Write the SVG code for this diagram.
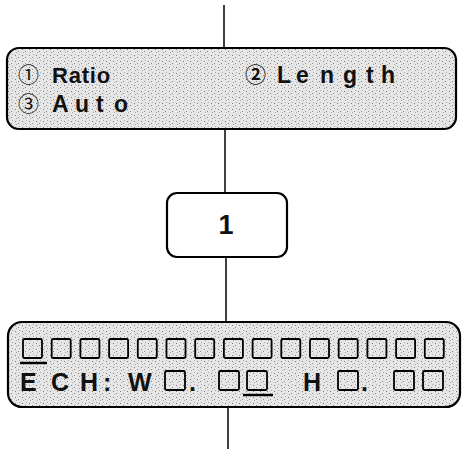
<svg xmlns="http://www.w3.org/2000/svg" width="465" height="450" viewBox="0 0 465 450">
<defs>
<pattern id="stip" width="7" height="6" patternUnits="userSpaceOnUse">
<rect width="7" height="6" fill="#e6e6e6"/>
<rect x="1" y="1" width="1" height="1" fill="#7a7a7a"/>
<rect x="4" y="3" width="1" height="1" fill="#8a8a8a"/>
<rect x="2" y="4" width="1" height="1" fill="#a8a8a8"/>
<rect x="5" y="0" width="1" height="1" fill="#aaaaaa"/>
</pattern>
</defs>
<style>
.box{fill:url(#stip);stroke:#000;stroke-width:2.2}
.plain{fill:#fff;stroke:#000;stroke-width:2.2}
.sq{fill:url(#stip);stroke:#000;stroke-width:1.8}
.conn{stroke:#000;stroke-width:1.5;fill:none}
.ul{stroke:#000;stroke-width:2.4}
.t{font-family:"Liberation Sans","Noto Sans CJK JP",sans-serif;font-weight:bold;fill:#111}
.c{font-family:"Noto Sans CJK JP","DejaVu Sans",sans-serif;fill:#111}
</style>
<g id="connectors">
<line class="conn" x1="224" y1="5" x2="224" y2="48"/>
<line class="conn" x1="225" y1="129" x2="225" y2="193"/>
<line class="conn" x1="226" y1="257" x2="226" y2="322"/>
<line class="conn" x1="228" y1="407" x2="228" y2="449"/>
</g>
<g id="menu">
<rect class="box" x="7" y="48" width="449" height="81" rx="12"/>
<text class="c" x="18" y="82" font-size="21">①</text>
<text class="t" x="52" y="83" font-size="22" letter-spacing="0.8">Ratio</text>
<text class="c" x="245" y="82" font-size="21" font-weight="bold">②</text>
<text class="t" x="277 296 320 343 366 381" y="83" font-size="23">Length</text>
<text class="c" x="18" y="111" font-size="21">③</text>
<text class="t" x="52 75 96 114" y="112" font-size="23">Auto</text>
</g>
<g id="key1">
<rect class="plain" x="167" y="193" width="120" height="64" rx="10"/>
<text class="t" x="226" y="234" font-size="27" text-anchor="middle">1</text>
</g>
<g id="display">
<rect class="box" x="8" y="322" width="452" height="85" rx="14"/>
<rect class="sq" x="23" y="339" width="19" height="19" rx="1.5"/>
<rect class="sq" x="51.7" y="339" width="19" height="19" rx="1.5"/>
<rect class="sq" x="80.4" y="339" width="19" height="19" rx="1.5"/>
<rect class="sq" x="109.1" y="339" width="19" height="19" rx="1.5"/>
<rect class="sq" x="137.8" y="339" width="19" height="19" rx="1.5"/>
<rect class="sq" x="166.5" y="339" width="19" height="19" rx="1.5"/>
<rect class="sq" x="195.2" y="339" width="19" height="19" rx="1.5"/>
<rect class="sq" x="223.9" y="339" width="19" height="19" rx="1.5"/>
<rect class="sq" x="252.6" y="339" width="19" height="19" rx="1.5"/>
<rect class="sq" x="281.3" y="339" width="19" height="19" rx="1.5"/>
<rect class="sq" x="310" y="339" width="19" height="19" rx="1.5"/>
<rect class="sq" x="338.7" y="339" width="19" height="19" rx="1.5"/>
<rect class="sq" x="367.4" y="339" width="19" height="19" rx="1.5"/>
<rect class="sq" x="396.1" y="339" width="19" height="19" rx="1.5"/>
<rect class="sq" x="424.8" y="339" width="19" height="19" rx="1.5"/>
<line class="ul" x1="20" y1="363" x2="47" y2="363"/>
<text class="t" x="20 51 80 103 128" y="391" font-size="25">ECH:W</text>
<rect class="sq" x="165" y="371" width="20" height="19" rx="1.5"/>
<text class="t" x="189" y="391" font-size="25">.</text>
<rect class="sq" x="219" y="371" width="20" height="19" rx="1.5"/>
<rect class="sq" x="247" y="371" width="20" height="19" rx="1.5"/>
<line class="ul" x1="243" y1="395" x2="273" y2="395"/>
<text class="t" x="303" y="391" font-size="25">H</text>
<rect class="sq" x="338" y="371" width="20" height="19" rx="1.5"/>
<text class="t" x="361" y="391" font-size="25">.</text>
<rect class="sq" x="394" y="371" width="20" height="19" rx="1.5"/>
<rect class="sq" x="423" y="371" width="20" height="19" rx="1.5"/>
</g>
</svg>
